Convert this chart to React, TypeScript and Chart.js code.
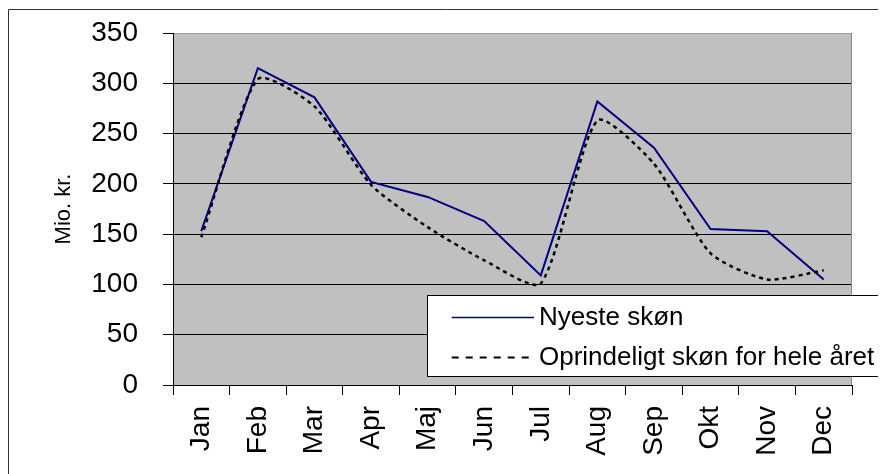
import React, { useEffect, useRef } from "react";
import { Chart, registerables } from "chart.js";

Chart.register(...registerables);

const months = ["Jan", "Feb", "Mar", "Apr", "Maj", "Jun", "Jul", "Aug", "Sep", "Okt", "Nov", "Dec"];
const nyesteSkon = [153, 315, 286, 202, 187, 163, 109, 282, 236, 155, 153, 105];
const oprindeligtSkon = [147, 304, 277, 199, 157, 124, 101, 263, 220, 131, 105, 114];
const seriesNames = ["Nyeste skøn", "Oprindeligt skøn for hele året"];
const yAxisTitle = "Mio. kr.";
const yMin = 0;
const yMax = 350;
const yStep = 50;

const FONT = "'Liberation Sans', Arial, sans-serif";
const NAVY = "#000080";
const PLOT_BG = "#C0C0C0";

const framePlugin = {
  id: "framePlugin",
  beforeDraw(chart: any) {
    const { ctx, chartArea } = chart;
    ctx.save();
    ctx.fillStyle = PLOT_BG;
    ctx.fillRect(chartArea.left, chartArea.top, chartArea.right - chartArea.left, chartArea.bottom - chartArea.top);
    // outer frame (top and left visible)
    ctx.strokeStyle = "#333333";
    ctx.lineWidth = 1;
    ctx.beginPath();
    ctx.moveTo(0.5, chart.height + 5);
    ctx.lineTo(0.5, 1.5);
    ctx.lineTo(chart.width + 5, 1.5);
    ctx.stroke();
    ctx.restore();
  },
  beforeDatasetsDraw(chart: any) {
    const { ctx, chartArea } = chart;
    ctx.save();
    ctx.strokeStyle = "#8a8a8a";
    ctx.lineWidth = 1;
    ctx.beginPath();
    ctx.moveTo(Math.round(chartArea.right) - 0.5, chartArea.bottom);
    ctx.lineTo(Math.round(chartArea.right) - 0.5, chartArea.top);
    ctx.stroke();
    ctx.restore();
  },
  afterDraw(chart: any) {
    const { ctx } = chart;
    ctx.save();
    // legend box
    const bx = 419.5;
    const by = 287.5;
    const bh = 81;
    ctx.fillStyle = "#ffffff";
    ctx.fillRect(bx, by, chart.width, bh);
    ctx.strokeStyle = "#000000";
    ctx.lineWidth = 1;
    ctx.strokeRect(bx, by, chart.width + 10, bh);

    const ds = chart.data.datasets;
    const rows = [309.5, 349.5];
    ds.forEach((d: any, i: number) => {
      const y = rows[i];
      ctx.beginPath();
      ctx.strokeStyle = d.borderColor;
      if (i === 0) {
        ctx.lineWidth = 1.5;
        ctx.setLineDash([]);
      } else {
        ctx.lineWidth = 2;
        ctx.setLineDash([7, 7]);
      }
      ctx.moveTo(443.7, y);
      ctx.lineTo(526, y);
      ctx.stroke();
      ctx.setLineDash([]);
      ctx.fillStyle = "#000000";
      ctx.font = `26px ${FONT}`;
      ctx.textBaseline = "alphabetic";
      ctx.textAlign = "left";
      ctx.fillText(d.label, 531, y + 7);
    });
    ctx.restore();
  },
};

export default function App() {
  const canvasRef = useRef<HTMLCanvasElement | null>(null);

  useEffect(() => {
    if (!canvasRef.current) return;
    const chart = new Chart(canvasRef.current, {
      type: "line",
      data: {
        labels: months,
        datasets: [
          {
            label: seriesNames[0],
            data: nyesteSkon,
            borderColor: NAVY,
            backgroundColor: NAVY,
            borderWidth: 2,
            pointRadius: 0,
            tension: 0,
            order: 1,
          },
          {
            label: seriesNames[1],
            data: oprindeligtSkon,
            borderColor: "#000000",
            backgroundColor: "#000000",
            borderWidth: 2.5,
            borderDash: [4, 4],
            pointRadius: 0,
            tension: 0.22,
            order: 0,
          },
        ],
      },
      options: {
        responsive: false,
        animation: false,
        events: [],
        layout: { padding: { top: 25, right: 34, bottom: 0, left: 0 } },
        plugins: {
          legend: { display: false },
          tooltip: { enabled: false },
          title: { display: false },
        },
        scales: {
          x: {
            type: "category",
            offset: true,
            grid: {
              offset: true,
              drawOnChartArea: false,
              drawTicks: true,
              tickLength: 10,
              color: "#000000",
              tickColor: "#000000",
            },
            border: { display: true, color: "#000000", width: 1 },
            ticks: {
              autoSkip: false,
              maxRotation: 90,
              minRotation: 90,
              padding: 11,
              color: "#000000",
              font: { family: FONT, size: 28 },
            },
            afterFit(scale: any) {
              scale.height = 89;
              scale.paddingLeft = 0;
              scale.paddingRight = 0;
            },
          },
          y: {
            min: yMin,
            max: yMax,
            ticks: {
              stepSize: yStep,
              padding: 25,
              color: "#000000",
              font: { family: FONT, size: 28 },
            },
            grid: {
              color: (c: any) => (c.tick && c.tick.value === yMax ? "#9a9a9a" : "#000000"),
              tickColor: "#000000",
              tickLength: 10,
              lineWidth: 1,
            },
            border: { display: true, color: "#000000", width: 1 },
            title: {
              display: true,
              text: yAxisTitle,
              color: "#000000",
              font: { family: FONT, size: 22 },
              padding: { top: 43, bottom: 0 },
            },
            afterFit(scale: any) {
              scale.width = 165;
              scale.paddingTop = 0;
              scale.paddingBottom = 0;
            },
          },
        },
      },
      plugins: [framePlugin],
    });
    return () => chart.destroy();
  }, []);

  return (
    <div style={{ width: 878, height: 466 }}>
      <canvas ref={canvasRef} width={878} height={466} style={{ display: "block" }} />
    </div>
  );
}
